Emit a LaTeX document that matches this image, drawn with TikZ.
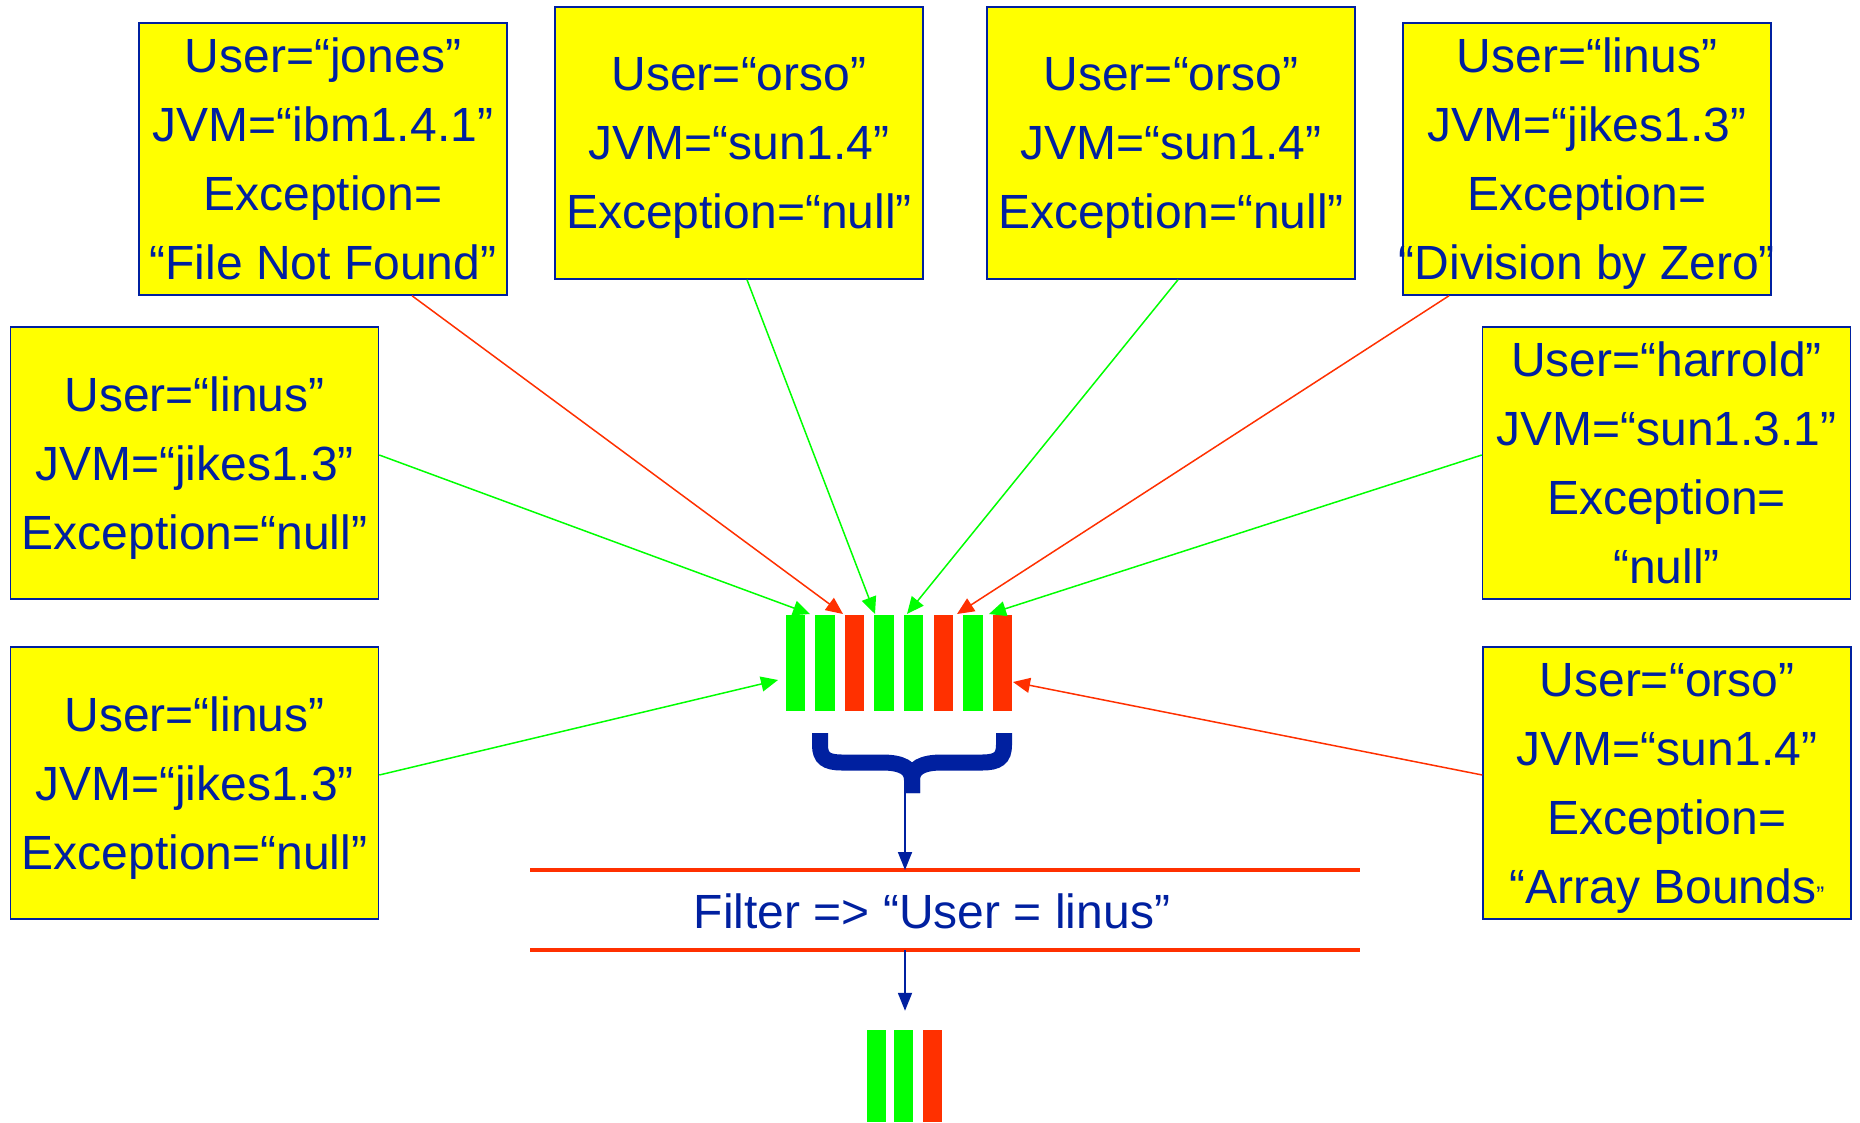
\documentclass[tikz,border=0pt]{standalone}
\usepackage{fontspec}
\setmainfont{Liberation Sans}
\usetikzlibrary{arrows.meta}
\definecolor{ink}{RGB}{0,32,160}
\definecolor{okgreen}{RGB}{0,255,0}
\definecolor{errred}{RGB}{255,48,0}
\definecolor{note}{RGB}{255,255,0}
% last line of a note: keep descenders from shifting the block
\newcommand{\nodescent}[1]{\raisebox{0pt}[\height][0pt]{#1}}
\tikzset{
  event/.style={draw=ink, line width=1.5pt, fill=note, text=ink,
    minimum width=368pt, minimum height=272pt, inner sep=0pt, align=center,
    font=\fontsize{48}{69}\selectfont},
  okbar/.style={fill=okgreen, draw=none, minimum width=19.5pt, minimum height=96pt, inner sep=0pt},
  errbar/.style={okbar, fill=errred},
  okfeed/.style={draw=okgreen, line width=1.5pt, -{Triangle[length=17pt,width=15pt]}},
  errfeed/.style={draw=errred, line width=1.5pt, -{Triangle[length=17pt,width=15pt]}},
  flow/.style={draw=ink, line width=1.8pt, -{Triangle[length=18pt,width=14pt]}},
  rule/.style={draw=errred, line width=4pt},
  label/.style={text=ink, inner sep=0pt, font=\fontsize{48}{69}\selectfont}
}
\begin{document}
\begin{tikzpicture}[x=1pt, y=-1pt]
\useasboundingbox[fill=white] (0,0) rectangle (1860,1122);

% logged events
\node[event] (jones)  at (323,159)    {User=“jones”\\JVM=“ibm1.4.1”\\Exception=\\\nodescent{“File Not Found”}};
\node[event] (orsoA)  at (739,143)    {User=“orso”\\JVM=“sun1.4”\\\nodescent{Exception=“null”}};
\node[event] (orsoB)  at (1171,143)   {User=“orso”\\JVM=“sun1.4”\\\nodescent{Exception=“null”}};
\node[event] (linusA) at (1587,159)   {User=“linus”\\JVM=“jikes1.3”\\Exception=\\\nodescent{\makebox[360pt]{“Division by Zero”}}};
\node[event] (linusB) at (194.5,463)  {User=“linus”\\JVM=“jikes1.3”\\\nodescent{Exception=“null”}};
\node[event] (harrold) at (1666.5,463) {User=“harrold”\\JVM=“sun1.3.1”\\Exception=\\\nodescent{“null”}};
\node[event] (linusC) at (194.5,783)  {User=“linus”\\JVM=“jikes1.3”\\\nodescent{Exception=“null”}};
\node[event] (orsoC)  at (1667,783)   {User=“orso”\\JVM=“sun1.4”\\Exception=\\\nodescent{“Array Bounds{\fontsize{24}{24}\selectfont ”}}};

% incoming event stream
\node[okbar]  (b1) at (795.25,663) {};
\node[okbar]  (b2) at (824.85,663) {};
\node[errbar] (b3) at (854.45,663) {};
\node[okbar]  (b4) at (884.05,663) {};
\node[okbar]  (b5) at (913.65,663) {};
\node[errbar] (b6) at (943.25,663) {};
\node[okbar]  (b7) at (972.85,663) {};
\node[errbar] (b8) at (1002.45,663) {};

\coordinate (in1) at (810,614);
\coordinate (in2) at (843,614);
\coordinate (in3) at (875,614);
\coordinate (in4) at (907,614);
\coordinate (in5) at (957,614);
\coordinate (in6) at (989,614);
\coordinate (in7) at (778,680);
\coordinate (in8) at (1013,682);

\draw[errfeed] ([xshift=89pt]jones.south) -- (in2);
\draw[okfeed]  ([xshift=8pt]orsoA.south) -- (in3);
\draw[okfeed]  ([xshift=7pt]orsoB.south) -- (in4);
\draw[errfeed] ([xshift=-138pt]linusA.south) -- (in5);
\draw[okfeed]  ([yshift=8pt]linusB.east) -- (in1);
\draw[okfeed]  ([yshift=8pt]harrold.west) -- (in6);
\draw[okfeed]  ([yshift=8pt]linusC.east) -- (in7);
\draw[errfeed] ([yshift=8pt]orsoC.west) -- (in8);

% brace grouping the stream
\draw[ink, line width=16pt]
  (820,733) -- (820,745) .. controls (820,758) and (826,762.5) .. (842,762.5)
  -- (882,762.5) .. controls (902,762.5) and (912,768) .. (912,780) -- (912,793);
\draw[ink, line width=16pt]
  (1004,733) -- (1004,745) .. controls (1004,758) and (998,762.5) .. (982,762.5)
  -- (942,762.5) .. controls (922,762.5) and (912,768) .. (912,780) -- (912,793);
\coordinate (tip) at (905,793);

% filter stage
\coordinate (ftl) at (530,870);
\coordinate (ftr) at (1360,870);
\coordinate (fbl) at (530,950);
\coordinate (fbr) at (1360,950);
\draw[rule] (ftl) -- (ftr);
\draw[rule] (fbl) -- (fbr);
\node[label] (filter) at (932,911) {Filter => “User = linus”};

% filtered result
\node[okbar, minimum width=19pt, minimum height=92pt]  (c1) at (876.5,1076) {};
\node[okbar, minimum width=19pt, minimum height=92pt]  (c2) at (903.5,1076) {};
\node[errbar, minimum width=19pt, minimum height=92pt] (c3) at (932,1076) {};

\draw[flow] (tip) -- (tip |- ftl);
\draw[flow] (tip |- fbl) -- ([yshift=19pt]c2.north -| tip);
\end{tikzpicture}
\end{document}
